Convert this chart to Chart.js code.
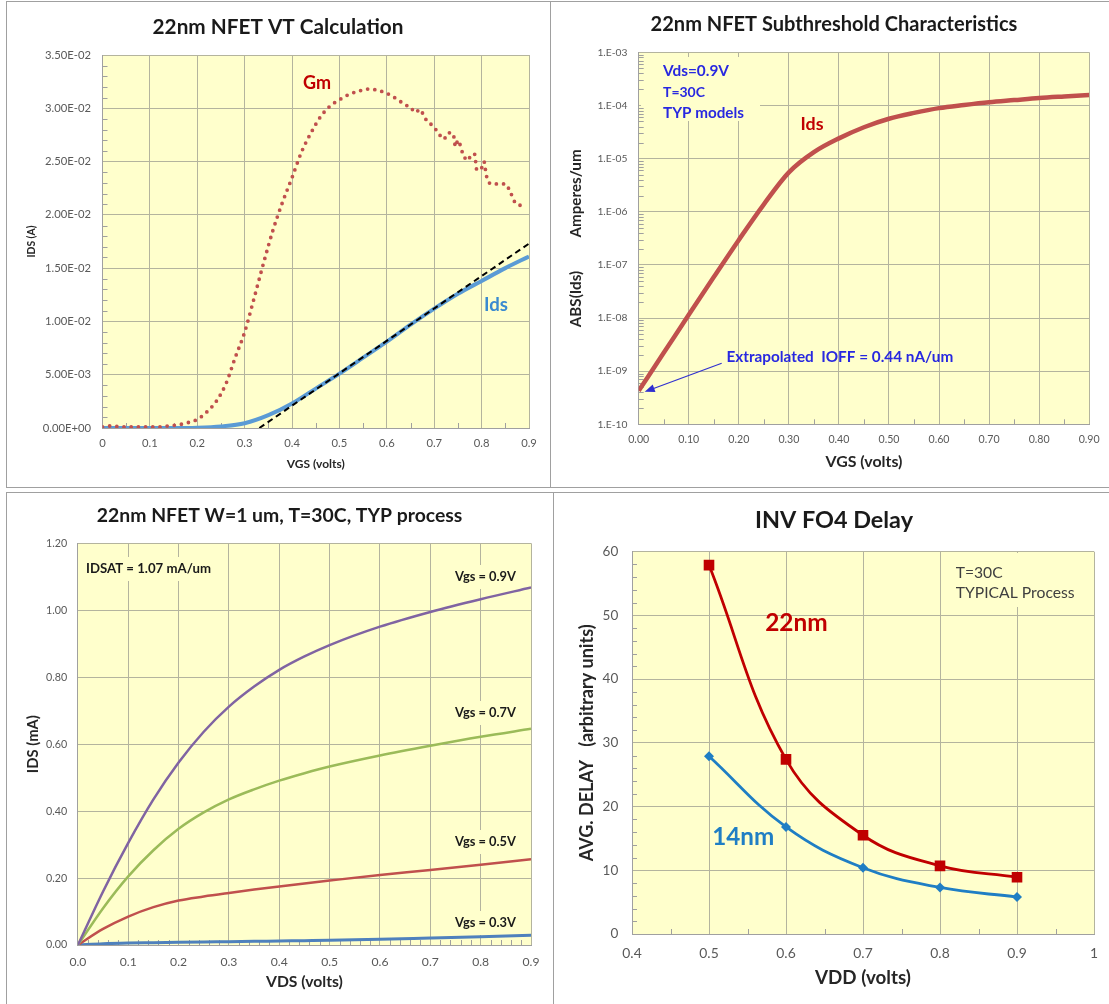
<!DOCTYPE html>
<html><head><meta charset="utf-8">
<script src="https://cdn.jsdelivr.net/npm/chart.js@4.4.1/dist/chart.umd.min.js"></script>
<style>
html,body{margin:0;padding:0;background:#fff;}
#wrap{position:relative;width:1109px;height:1004px;overflow:hidden;background:#fff;}
canvas{position:absolute;}
.ln{position:absolute;background:#a0a0a0;}
</style></head><body>
<div id="wrap">
<canvas id="c1" width="553" height="490" style="left:0;top:0"></canvas>
<canvas id="c2" width="556" height="490" style="left:553px;top:0"></canvas>
<canvas id="c3" width="553" height="514" style="left:0;top:490px"></canvas>
<canvas id="c4" width="556" height="514" style="left:553px;top:490px"></canvas>
<div class="ln" style="left:6px;top:1px;width:1103px;height:1px"></div>
<div class="ln" style="left:6px;top:1px;width:1px;height:487px"></div>
<div class="ln" style="left:550px;top:1px;width:1px;height:487px"></div>
<div class="ln" style="left:6px;top:487px;width:1103px;height:1px"></div>
<div class="ln" style="left:6px;top:492px;width:1103px;height:1px"></div>
<div class="ln" style="left:6px;top:492px;width:1px;height:512px"></div>
<div class="ln" style="left:553px;top:492px;width:1px;height:512px"></div>
</div>
<script>
// ---------------- DATA ----------------
// Panel 1: 22nm NFET VT Calculation
const p1GmVgs = [0,0.02,0.04,0.06,0.08,0.10,0.12,0.14,0.16,0.18,0.20,0.22,0.24,0.26,0.28,0.30,0.32,0.34,0.36,0.38,0.40,0.42,0.44,0.46,0.48,0.50,0.52,0.54,0.56,0.58,0.60,0.62,0.64,0.65,0.66,0.67,0.68,0.70,0.71,0.72,0.73,0.74,0.745,0.75,0.76,0.77,0.78,0.785,0.79,0.80,0.805,0.81,0.82,0.84,0.85,0.86,0.87,0.88,0.89];
const p1Gm = [0.0001,0.0002,0.0001,0.0001,0.0001,0.0001,0.0001,0.0002,0.0003,0.0005,0.0008,0.0015,0.0025,0.0041,0.0066,0.0090,0.0122,0.0155,0.0186,0.0212,0.0235,0.0259,0.0277,0.0292,0.0302,0.0308,0.0313,0.0316,0.0318,0.0317,0.0314,0.0309,0.0303,0.0301,0.0296,0.0299,0.0291,0.0282,0.0276,0.0271,0.0277,0.0276,0.0264,0.0270,0.0258,0.0251,0.0257,0.0257,0.0242,0.0244,0.0250,0.0237,0.0229,0.0229,0.0229,0.0222,0.0212,0.0209,0.0209];
const p1IdsVgs = [0,0.05,0.10,0.15,0.20,0.25,0.30,0.35,0.40,0.45,0.50,0.55,0.60,0.65,0.70,0.75,0.80,0.85,0.90];
const p1Ids = [0,0,0,0,0.00003,0.00015,0.00045,0.0012,0.0023,0.0037,0.0051,0.0066,0.0081,0.0097,0.0112,0.0126,0.0138,0.0150,0.0161];
const p1TanVgs = [0.331, 0.9];
const p1Tan = [0, 0.0173];
const p1XTicks = [0,0.1,0.2,0.3,0.4,0.5,0.6,0.7,0.8,0.9];
const p1XLabels = ['0','0.1','0.2','0.3','0.4','0.5','0.6','0.7','0.8','0.9'];
const p1YTicks = [0,0.005,0.010,0.015,0.020,0.025,0.030,0.035];
const p1YLabels = ['0.00E+00','5.00E-03','1.00E-02','1.50E-02','2.00E-02','2.50E-02','3.00E-02','3.50E-02'];

// Panel 2: Subthreshold
const p2Vgs = [0,0.05,0.10,0.15,0.20,0.25,0.30,0.35,0.40,0.45,0.50,0.55,0.60,0.65,0.70,0.75,0.80,0.85,0.90];
const p2Ids = [4.27e-10,2.21e-9,1.15e-8,5.9e-8,2.95e-7,1.38e-6,5.5e-6,1.32e-5,2.4e-5,3.89e-5,5.62e-5,7.24e-5,8.91e-5,1.02e-4,1.15e-4,1.26e-4,1.38e-4,1.48e-4,1.58e-4];
const p2XTicks = [0,0.1,0.2,0.3,0.4,0.5,0.6,0.7,0.8,0.9];
const p2XLabels = ['0.00','0.10','0.20','0.30','0.40','0.50','0.60','0.70','0.80','0.90'];
const p2YTicks = [1e-10,1e-9,1e-8,1e-7,1e-6,1e-5,1e-4,1e-3];
const p2YLabels = ['1.E-10','1.E-09','1.E-08','1.E-07','1.E-06','1.E-05','1.E-04','1.E-03'];
const p2ArrowTarget = {x: 0.012, y: 4.1e-10};

// Panel 3: Output characteristics
const p3Vds = [0,0.05,0.10,0.15,0.20,0.25,0.30,0.35,0.40,0.45,0.50,0.60,0.70,0.80,0.90];
const p3Vgs09 = [0,0.160,0.305,0.435,0.545,0.637,0.712,0.772,0.822,0.862,0.896,0.951,0.995,1.033,1.068];
const p3Vgs07 = [0,0.110,0.205,0.283,0.347,0.396,0.435,0.465,0.491,0.513,0.533,0.566,0.595,0.622,0.646];
const p3Vgs05 = [0,0.048,0.085,0.113,0.133,0.145,0.1555,0.1655,0.175,0.184,0.1925,0.209,0.224,0.240,0.256];
const p3Vgs03 = [0,0.004,0.006,0.007,0.008,0.009,0.010,0.011,0.012,0.013,0.014,0.017,0.021,0.025,0.029];
const p3XTicks = [0,0.1,0.2,0.3,0.4,0.5,0.6,0.7,0.8,0.9];
const p3XLabels = ['0.0','0.1','0.2','0.3','0.4','0.5','0.6','0.7','0.8','0.9'];
const p3YTicks = [0,0.2,0.4,0.6,0.8,1.0,1.2];
const p3YLabels = ['0.00','0.20','0.40','0.60','0.80','1.00','1.20'];

// Panel 4: INV FO4 Delay
const p4Vdd = [0.5,0.6,0.7,0.8,0.9];
const p4Delay22 = [57.9,27.4,15.5,10.7,8.9];
const p4Delay14 = [27.9,16.8,10.4,7.3,5.8];
const p4XTicks = [0.4,0.5,0.6,0.7,0.8,0.9,1.0];
const p4XLabels = ['0.4','0.5','0.6','0.7','0.8','0.9','1'];
const p4YTicks = [0,10,20,30,40,50,60];
const p4YLabels = ['0','10','20','30','40','50','60'];

// ---------------- STYLE / HELPERS ----------------
const FAM = 'Lato, "Open Sans", sans-serif';
const PLOT_BG = '#FFFFCC';
const GRID = '#B4B49E';
const AXIS = '#A0A0A0';
const TICK_COLOR = '#595959';
const mctx = document.createElement('canvas').getContext('2d');
function fit(text, target, weight) {
  mctx.font = (weight || 'bold') + ' 100px ' + FAM;
  return 100 * target / mctx.measureText(text).width;
}
const xy = (xs, ys) => xs.map((x, i) => ({x: x, y: ys[i]}));
function range(a, b, step, skipEvery) {
  const out = [];
  for (let i = a; i <= b; i++) { if (skipEvery && i % skipEvery === 0) continue; out.push(+(i * step).toFixed(6)); }
  return out;
}

const decoPlugin = {
  id: 'deco',
  beforeDraw(chart) {
    const {ctx, chartArea: a} = chart;
    ctx.save(); ctx.fillStyle = PLOT_BG;
    ctx.fillRect(a.left, a.top, a.right - a.left, a.bottom - a.top);
    ctx.restore();
  },
  beforeDatasetsDraw(chart, args, o) {
    const {ctx, chartArea: a} = chart;
    ctx.save();
    (o.boxes || []).forEach(b => { ctx.fillStyle = PLOT_BG; ctx.fillRect(b.x, b.y, b.w, b.h); });
    ctx.strokeStyle = AXIS; ctx.lineWidth = 1;
    (o.minor || []).forEach(m => {
      const s = chart.scales[m.axis];
      m.values.forEach(v => {
        const p = Math.round(s.getPixelForValue(v)) + 0.5;
        ctx.beginPath();
        if (m.axis === 'x') { ctx.moveTo(p, a.bottom); ctx.lineTo(p, a.bottom - 5); }
        else { ctx.moveTo(a.left, p); ctx.lineTo(a.left + 5, p); }
        ctx.stroke();
      });
    });
    ctx.restore();
  },
  afterDraw(chart, args, o) {
    const {ctx} = chart;
    ctx.save();
    (o.texts || []).forEach(t => {
      const w = t.weight || 'bold';
      const size = fit(t.text, t.width, w);
      ctx.font = w + ' ' + size + 'px ' + FAM;
      ctx.fillStyle = t.color; ctx.textAlign = t.align || 'left'; ctx.textBaseline = 'middle';
      ctx.fillText(t.text, t.x, t.y);
    });
    if (o.arrow) {
      const ar = o.arrow;
      const tx = chart.scales.x.getPixelForValue(ar.target.x);
      const ty = chart.scales.y.getPixelForValue(ar.target.y);
      const ang = Math.atan2(ty - ar.y, tx - ar.x);
      ctx.strokeStyle = ar.color; ctx.fillStyle = ar.color; ctx.lineWidth = 1.2;
      ctx.beginPath(); ctx.moveTo(ar.x, ar.y);
      ctx.lineTo(tx - 8 * Math.cos(ang), ty - 8 * Math.sin(ang)); ctx.stroke();
      ctx.beginPath(); ctx.moveTo(tx, ty);
      ctx.lineTo(tx - 10 * Math.cos(ang) + 4 * Math.sin(ang), ty - 10 * Math.sin(ang) - 4 * Math.cos(ang));
      ctx.lineTo(tx - 10 * Math.cos(ang) - 4 * Math.sin(ang), ty - 10 * Math.sin(ang) + 4 * Math.cos(ang));
      ctx.closePath(); ctx.fill();
    }
    ctx.restore();
  }
};

function makeAxis(isX, g, c) {
  const tickSize = fit(c.sample, c.sampleWidth, 'normal');
  const titleSize = fit(c.title, c.titleWidth, 'bold');
  let tickPad, titlePad;
  if (isX) {
    tickPad = c.tickCenter - g.B - 0.6 * tickSize;
    titlePad = g.H - g.padB - c.titleCenter - 0.6 * titleSize;
  } else {
    tickPad = g.L - c.tickRight;
    titlePad = c.titleCenter - g.padL - 0.6 * titleSize;
  }
  return {
    type: c.type || 'linear', min: c.min, max: c.max, position: isX ? 'bottom' : 'left',
    afterBuildTicks: s => { s.ticks = c.ticks.map(v => ({value: v})); },
    afterFit: s => { if (isX) s.height = g.H - g.padB - g.B; else s.width = g.L - g.padL; },
    ticks: { autoSkip: false, maxRotation: 0, minRotation: 0, padding: tickPad, color: TICK_COLOR,
      font: {family: FAM, size: tickSize}, callback: (v, i) => c.labels[i] },
    grid: { color: GRID, lineWidth: 1, drawTicks: false },
    border: { color: AXIS, width: 1 },
    title: { display: true, text: c.title, color: '#262626',
      font: {family: FAM, size: titleSize, weight: 'bold'}, padding: {top: titlePad, bottom: titlePad} }
  };
}

function makeChart(id, g, datasets, xa, ya, deco) {
  return new Chart(document.getElementById(id), {
    type: 'line',
    data: { datasets: datasets },
    options: {
      responsive: false, animation: false, events: [],
      layout: { padding: {top: g.T, right: g.W - g.R, bottom: g.padB, left: g.padL} },
      plugins: { legend: {display: false}, tooltip: {enabled: false}, deco: deco },
      scales: { x: makeAxis(true, g, xa), y: makeAxis(false, g, ya) }
    },
    plugins: [decoPlugin]
  });
}

// ---------------- PANEL 1 ----------------
makeChart('c1', {W:553,H:490,L:102.5,R:529,T:55,B:428,padL:8,padB:8}, [
  { data: xy(p1GmVgs, p1Gm), borderColor: '#C0504D', borderWidth: 3.8, borderDash: [0, 7.2], borderCapStyle: 'round',
    pointRadius: 0, cubicInterpolationMode: 'monotone', fill: false },
  { data: xy(p1TanVgs, p1Tan), borderColor: '#000000', borderWidth: 2, borderDash: [6, 4], pointRadius: 0, tension: 0, fill: false },
  { data: xy(p1IdsVgs, p1Ids), borderColor: '#5B9BD5', borderWidth: 4, pointRadius: 0, cubicInterpolationMode: 'monotone', fill: false }
],
{ min: 0, max: 0.9, ticks: p1XTicks, labels: p1XLabels, sample: '0.1', sampleWidth: 15.7, tickCenter: 443,
  title: 'VGS (volts)', titleWidth: 58, titleCenter: 464 },
{ min: 0, max: 0.035, ticks: p1YTicks, labels: p1YLabels, sample: '3.50E-02', sampleWidth: 46, tickRight: 91,
  title: 'IDS (A)', titleWidth: 32, titleCenter: 32 },
{ minor: [ {axis: 'y', values: range(0, 35, 0.001, 5)}, {axis: 'x', values: [0.05,0.15,0.25,0.35,0.45,0.55,0.65,0.75,0.85]} ],
  texts: [
    {text: '22nm NFET VT Calculation', x: 278, y: 27, width: 251, align: 'center', color: '#1A1A1A'},
    {text: 'Gm', x: 317, y: 83, width: 28, align: 'center', color: '#C00000'},
    {text: 'Ids', x: 496, y: 305, width: 24, align: 'center', color: '#3A8AD0'}
  ] });

// ---------------- PANEL 2 ----------------
const p2Minor = [];
for (let d = -10; d <= -4; d++) for (let k = 2; k <= 9; k++) p2Minor.push(k * Math.pow(10, d));
makeChart('c2', {W:556,H:490,L:85.7,R:540.2,T:52.3,B:424.3,padL:8,padB:8}, [
  { data: xy(p2Vgs, p2Ids), borderColor: '#C0504D', borderWidth: 4.5, pointRadius: 0, cubicInterpolationMode: 'monotone', fill: false }
],
{ min: 0, max: 0.9, ticks: p2XTicks, labels: p2XLabels, sample: '0.10', sampleWidth: 21, tickCenter: 440,
  title: 'VGS (volts)', titleWidth: 77, titleCenter: 461.7 },
{ type: 'logarithmic', min: 1e-10, max: 1e-3, ticks: p2YTicks, labels: p2YLabels, sample: '1.E-03', sampleWidth: 30, tickRight: 74.4,
  title: 'ABS(Ids)         Amperes/um', titleWidth: 178, titleCenter: 23 },
{ minor: [ {axis: 'y', values: p2Minor}, {axis: 'x', values: [0.05,0.15,0.25,0.35,0.45,0.55,0.65,0.75,0.85]} ],
  boxes: [ {x: 88, y: 57, w: 119, h: 64} ],
  texts: [
    {text: '22nm NFET Subthreshold Characteristics', x: 281, y: 25, width: 367, align: 'center', color: '#1A1A1A'},
    {text: 'Vds=0.9V', x: 110, y: 71, width: 66, color: '#2828E0'},
    {text: 'T=30C', x: 110, y: 92, width: 42, color: '#2828E0'},
    {text: 'TYP models', x: 110, y: 113, width: 81, color: '#2828E0'},
    {text: 'Ids', x: 259, y: 124, width: 23, align: 'center', color: '#C00000'},
    {text: 'Extrapolated  IOFF = 0.44 nA/um', x: 173.4, y: 357, width: 227, color: '#2828E0'}
  ],
  arrow: {x: 168.7, y: 363.3, target: p2ArrowTarget, color: '#3030D0'} });

// ---------------- PANEL 3 ----------------
makeChart('c3', {W:553,H:514,L:77.9,R:531,T:53.3,B:455,padL:6,padB:6}, [
  { data: xy(p3Vds, p3Vgs09), borderColor: '#8064A2', borderWidth: 2.5, pointRadius: 0, cubicInterpolationMode: 'monotone', fill: false },
  { data: xy(p3Vds, p3Vgs07), borderColor: '#9BBB59', borderWidth: 2.5, pointRadius: 0, cubicInterpolationMode: 'monotone', fill: false },
  { data: xy(p3Vds, p3Vgs05), borderColor: '#C0504D', borderWidth: 2.5, pointRadius: 0, cubicInterpolationMode: 'monotone', fill: false },
  { data: xy(p3Vds, p3Vgs03), borderColor: '#4F81BD', borderWidth: 3, pointRadius: 0, cubicInterpolationMode: 'monotone', fill: false }
],
{ min: 0, max: 0.9, ticks: p3XTicks, labels: p3XLabels, sample: '0.0', sampleWidth: 17, tickCenter: 471.7,
  title: 'VDS (volts)', titleWidth: 77, titleCenter: 491.7 },
{ min: 0, max: 1.2, ticks: p3YTicks, labels: p3YLabels, sample: '1.20', sampleWidth: 21.2, tickRight: 67.3,
  title: 'IDS (mA)', titleWidth: 58, titleCenter: 33.6 },
{ minor: [ {axis: 'x', values: range(0, 45, 0.02, 5)} ],
  boxes: [ {x: 82, y: 67, w: 134, h: 24}, {x: 450, y: 75, w: 70, h: 24}, {x: 450, y: 211, w: 70, h: 24},
           {x: 450, y: 340, w: 70, h: 24}, {x: 450, y: 421, w: 70, h: 24} ],
  texts: [
    {text: '22nm NFET W=1 um, T=30C, TYP process', x: 279.6, y: 26, width: 366, align: 'center', color: '#1A1A1A'},
    {text: 'IDSAT = 1.07 mA/um', x: 86, y: 79, width: 125, color: '#1A1A1A'},
    {text: 'Vgs = 0.9V', x: 516, y: 87, width: 61, align: 'right', color: '#1A1A1A'},
    {text: 'Vgs = 0.7V', x: 516, y: 223, width: 61, align: 'right', color: '#1A1A1A'},
    {text: 'Vgs = 0.5V', x: 516, y: 352, width: 61, align: 'right', color: '#1A1A1A'},
    {text: 'Vgs = 0.3V', x: 516, y: 433, width: 61, align: 'right', color: '#1A1A1A'}
  ] });

// ---------------- PANEL 4 ----------------
makeChart('c4', {W:556,H:514,L:79,R:544,T:61.7,B:444,padL:6,padB:6}, [
  { data: xy(p4Vdd, p4Delay22), borderColor: '#C00000', backgroundColor: '#C00000', borderWidth: 2.8, tension: 0.4,
    pointStyle: 'rect', pointRadius: 7.5, pointBorderWidth: 0, fill: false },
  { data: xy(p4Vdd, p4Delay14), borderColor: '#1F7EC4', backgroundColor: '#1F7EC4', borderWidth: 2.8, tension: 0.4,
    pointStyle: 'rectRot', pointRadius: 5, pointBorderWidth: 0, fill: false }
],
{ min: 0.4, max: 1.0, ticks: p4XTicks, labels: p4XLabels, sample: '0.4', sampleWidth: 19.4, tickCenter: 463.3,
  title: 'VDD (volts)', titleWidth: 96, titleCenter: 488.3 },
{ min: 0, max: 60, ticks: p4YTicks, labels: p4YLabels, sample: '60', sampleWidth: 15.7, tickRight: 65.3,
  title: 'AVG. DELAY   (arbitrary units)', titleWidth: 237, titleCenter: 33.8 },
{ minor: [ {axis: 'y', values: range(0, 30, 2, 5)}, {axis: 'x', values: [0.45,0.55,0.65,0.75,0.85,0.95]} ],
  boxes: [ {x: 392, y: 63, w: 130, h: 54} ],
  texts: [
    {text: 'INV FO4 Delay', x: 281, y: 30, width: 158, align: 'center', color: '#1A1A1A'},
    {text: '22nm', x: 212.2, y: 133, width: 62.5, color: '#C00000'},
    {text: '14nm', x: 159.2, y: 347, width: 62, color: '#1F7EC4'},
    {text: 'T=30C', x: 402.7, y: 83, width: 47, weight: 'normal', color: '#404040'},
    {text: 'TYPICAL Process', x: 402.7, y: 103, width: 119, weight: 'normal', color: '#404040'}
  ] });
</script>
</body></html>
